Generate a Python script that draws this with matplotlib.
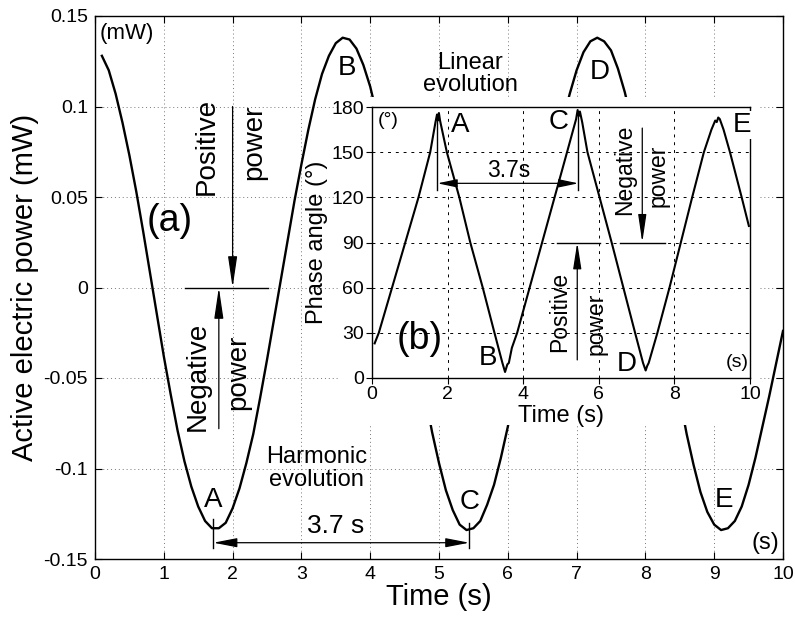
import matplotlib
matplotlib.use('Agg')
import matplotlib.pyplot as plt
from matplotlib.patches import Rectangle

plt.rcParams['font.family'] = ['Liberation Sans', 'DejaVu Sans']

# ---------------- data ----------------
time_a = [0.1, 0.2, 0.3, 0.4, 0.5, 0.6, 0.7, 0.8, 0.9, 1.0,
          1.1, 1.2, 1.3, 1.4, 1.5, 1.6, 1.7, 1.8, 1.9, 2.0,
          2.1, 2.2, 2.3, 2.4, 2.5, 2.6, 2.7, 2.8, 2.9, 3.0,
          3.1, 3.2, 3.3, 3.4, 3.5, 3.6, 3.7, 3.8, 3.9, 4.0,
          4.1, 4.2, 4.3, 4.4, 4.5, 4.6, 4.7, 4.8, 4.9, 5.0,
          5.1, 5.2, 5.3, 5.4, 5.5, 5.6, 5.7, 5.8, 5.9, 6.0,
          6.1, 6.2, 6.3, 6.4, 6.5, 6.6, 6.7, 6.8, 6.9, 7.0,
          7.1, 7.2, 7.3, 7.4, 7.5, 7.6, 7.7, 7.8, 7.9, 8.0,
          8.1, 8.2, 8.3, 8.4, 8.5, 8.6, 8.7, 8.8, 8.9, 9.0,
          9.1, 9.2, 9.3, 9.4, 9.5, 9.6, 9.7, 9.8, 9.9, 10.0]
power_a = [0.128, 0.120, 0.107, 0.091, 0.073, 0.053, 0.031, 0.008, -0.015, -0.038,
           -0.059, -0.079, -0.096, -0.110, -0.121, -0.129, -0.133, -0.133, -0.130, -0.122,
           -0.111, -0.097, -0.081, -0.061, -0.040, -0.018, 0.004, 0.026, 0.048, 0.068,
           0.087, 0.104, 0.118, 0.128, 0.135, 0.138, 0.137, 0.132, 0.123, 0.111,
           0.095, 0.076, 0.055, 0.033, 0.009, -0.015, -0.038, -0.060, -0.080, -0.097,
           -0.112, -0.123, -0.131, -0.134, -0.133, -0.129, -0.120, -0.109, -0.094, -0.077,
           -0.057, -0.036, -0.014, 0.009, 0.031, 0.053, 0.073, 0.092, 0.107, 0.120,
           0.130, 0.136, 0.138, 0.136, 0.131, 0.121, 0.108, 0.092, 0.073, 0.052,
           0.030, 0.007, -0.017, -0.040, -0.061, -0.081, -0.098, -0.113, -0.124, -0.131,
           -0.134, -0.133, -0.129, -0.121, -0.109, -0.094, -0.077, -0.060, -0.042, -0.024]

time_b = [0.07, 0.18, 0.53, 0.88, 1.23, 1.54, 1.68, 1.72, 1.74, 1.77,
          1.80, 1.98, 2.31, 2.60, 2.93, 3.24, 3.45, 3.52, 3.58, 3.62,
          3.70, 3.84, 4.17, 4.50, 4.83, 5.16, 5.40, 5.44, 5.47, 5.50,
          5.56, 5.70, 6.02, 6.34, 6.65, 6.96, 7.17, 7.24, 7.28, 7.32,
          7.55, 7.87, 8.17, 8.47, 8.78, 8.98, 9.08, 9.12, 9.16, 9.20,
          9.30, 9.47, 9.78, 9.97]
phase_b = [23, 30, 60, 90, 120, 150, 170, 175, 171, 176,
           171, 150, 120, 90, 60, 30, 10, 4, 9, 10,
           20, 30, 60, 90, 120, 150, 172, 178, 174, 177,
           170, 150, 120, 90, 60, 30, 10, 5, 8, 10,
           30, 60, 90, 120, 150, 165, 171, 170, 173, 172,
           165, 150, 120, 101]

main_xticks = [0, 1, 2, 3, 4, 5, 6, 7, 8, 9, 10]
main_yticks = [-0.15, -0.1, -0.05, 0, 0.05, 0.1, 0.15]
main_yticklabels = ['-0.15', '-0.1', '-0.05', '0', '0.05', '0.1', '0.15']
inset_xticks = [0, 2, 4, 6, 8, 10]
inset_yticks = [0, 30, 60, 90, 120, 150, 180]

# ---------------- figure ----------------
W, H = 795, 623
fig = plt.figure(figsize=(W / 100, H / 100), dpi=100)

def fx(px):
    return px / W

def fy(py):
    return 1 - py / H

ax = fig.add_axes([fx(95), fy(559), fx(783) - fx(95), fy(16) - fy(559)])
ax.plot(time_a, power_a, color='k', lw=1.7, zorder=2)
ax.set_xlim(0, 10)
ax.set_ylim(-0.15, 0.15)
ax.set_xticks(main_xticks)
ax.set_yticks(main_yticks)
ax.set_yticklabels(main_yticklabels)
ax.tick_params(direction='in', top=True, right=True, length=5, width=0.8,
               labelsize=14, pad=5)
ax.grid(True, color='#777777', linestyle=(0, (1, 3)), lw=0.7)
for s in ax.spines.values():
    s.set_linewidth(1.0)
ax.set_xlabel('Time (s)', fontsize=21, labelpad=0)
ax.set_ylabel('Active electric power (mW)', fontsize=21, labelpad=3)

# white area behind inset
ax.add_patch(Rectangle((fx(338), fy(425)), fx(760) - fx(338), fy(97) - fy(425),
                       transform=fig.transFigure, facecolor='white',
                       edgecolor='none', zorder=3, clip_on=False))

def arrow(a, tip, tail, hl, hw, style='-|>'):
    a.annotate('', xy=tip, xytext=tail,
               arrowprops=dict(arrowstyle=f'{style},head_length={hl},head_width={hw}',
                               color='k', lw=0.9, shrinkA=0, shrinkB=0,
                               mutation_scale=10),
               zorder=4)

# main annotations
ax.text(0.07, 0.1406, '(mW)', fontsize=16, ha='left', va='center', zorder=4)
ax.text(1.09, 0.037, '(a)', fontsize=27, ha='center', va='center', zorder=4)
ax.text(1.63, 0.078, 'Positive', fontsize=20, rotation=90, ha='center', va='center', zorder=4)
ax.text(2.31, 0.080, 'power', fontsize=20, rotation=90, ha='center', va='center', zorder=4)
arrow(ax, (2.0, 0.0), (2.0, 0.1), 1.9, 0.28)
ax.plot([1.31, 2.51], [0, 0], color='k', lw=1.0, zorder=4)
arrow(ax, (1.80, 0.0), (1.80, -0.078), 1.9, 0.28)
ax.text(1.50, -0.049, 'Negative', fontsize=20, rotation=90, ha='center', va='center', zorder=4)
ax.text(2.08, -0.047, 'power', fontsize=20, rotation=90, ha='center', va='center', zorder=4)
ax.text(3.22, -0.1, 'Harmonic\nevolution', fontsize=17, ha='center', va='center',
        linespacing=1.1, zorder=4)
ax.text(1.72, -0.1175, 'A', fontsize=20, ha='center', va='center', zorder=4)
ax.text(5.44, -0.1185, 'C', fontsize=20, ha='center', va='center', zorder=4)
ax.text(9.14, -0.1175, 'E', fontsize=20, ha='center', va='center', zorder=4)
ax.text(3.66, 0.121, 'B', fontsize=20, ha='center', va='center', zorder=4)
ax.text(7.34, 0.119, 'D', fontsize=20, ha='center', va='center', zorder=4)
ax.text(5.45, 0.118, 'Linear\nevolution', fontsize=17, ha='center', va='center',
        linespacing=1.0, zorder=4)
ax.text(3.50, -0.132, '3.7 s', fontsize=19, ha='center', va='center', zorder=4)
ax.text(9.75, -0.141, '(s)', fontsize=17, ha='center', va='center', zorder=4)
ax.plot([1.72, 1.72], [-0.128, -0.144], color='k', lw=1.0, zorder=4)
ax.plot([5.44, 5.44], [-0.13, -0.144], color='k', lw=1.0, zorder=4)
arrow(ax, (5.44, -0.141), (1.72, -0.141), 1.45, 0.28, style='<|-|>')

# ---------------- inset ----------------
ins = fig.add_axes([fx(372), fy(378), fx(750) - fx(372), fy(107) - fy(378)])
ins.set_facecolor('white')
ins.plot(time_b, phase_b, color='k', lw=1.5, zorder=2)
ins.set_xlim(0, 10)
ins.set_ylim(0, 180)
ins.set_xticks(inset_xticks)
ins.set_yticks(inset_yticks)
ins.tick_params(direction='out', length=4, width=0.8, labelsize=14, pad=2)
ins.grid(True, color='k', linestyle=(0, (3, 5)), lw=0.7)
for s in ins.spines.values():
    s.set_linewidth(1.0)
ins.set_xlabel('Time (s)', fontsize=17, labelpad=1)
ins.set_ylabel('Phase angle (°)', fontsize=17, labelpad=2)

ins.text(0.43, 171, '(°)', fontsize=14, ha='center', va='center')
ins.text(2.33, 168, 'A', fontsize=20, ha='center', va='center')
ins.text(4.95, 170, 'C', fontsize=20, ha='center', va='center')
ins.text(9.78, 168, 'E', fontsize=20, ha='center', va='center',
         bbox=dict(facecolor='white', edgecolor='none', pad=1), zorder=5)
ins.text(3.08, 13, 'B', fontsize=20, ha='center', va='center')
ins.text(6.75, 9, 'D', fontsize=20, ha='center', va='center')
ins.text(9.65, 10.5, '(s)', fontsize=14, ha='center', va='center')
ins.text(1.25, 26, '(b)', fontsize=27, ha='center', va='center')
ins.text(3.63, 138, '3.7s', fontsize=16.5, ha='center', va='center')
ins.plot([1.73, 1.73], [173, 125], color='k', lw=1.0)
ins.plot([5.46, 5.46], [176, 125], color='k', lw=1.0)
arrow(ins, (5.46, 129.3), (1.73, 129.3), 1.2, 0.25, style='<|-|>')
ins.text(6.67, 138, 'Negative', fontsize=16.5, rotation=90, ha='center', va='center')
ins.text(7.57, 134, 'power', fontsize=16.5, rotation=90, ha='center', va='center')
arrow(ins, (7.15, 90), (7.15, 166), 1.7, 0.25)
ins.plot([6.56, 7.75], [90, 90], color='k', lw=1.0)
ins.plot([4.89, 6.03], [90, 90], color='k', lw=1.0)
arrow(ins, (5.43, 90), (5.43, 12), 1.6, 0.25)
ins.text(4.97, 44, 'Positive', fontsize=16.5, rotation=90, ha='center', va='center')
ins.text(5.93, 36, 'power', fontsize=16.5, rotation=90, ha='center', va='center')

fig.savefig('out.png', dpi=100)
